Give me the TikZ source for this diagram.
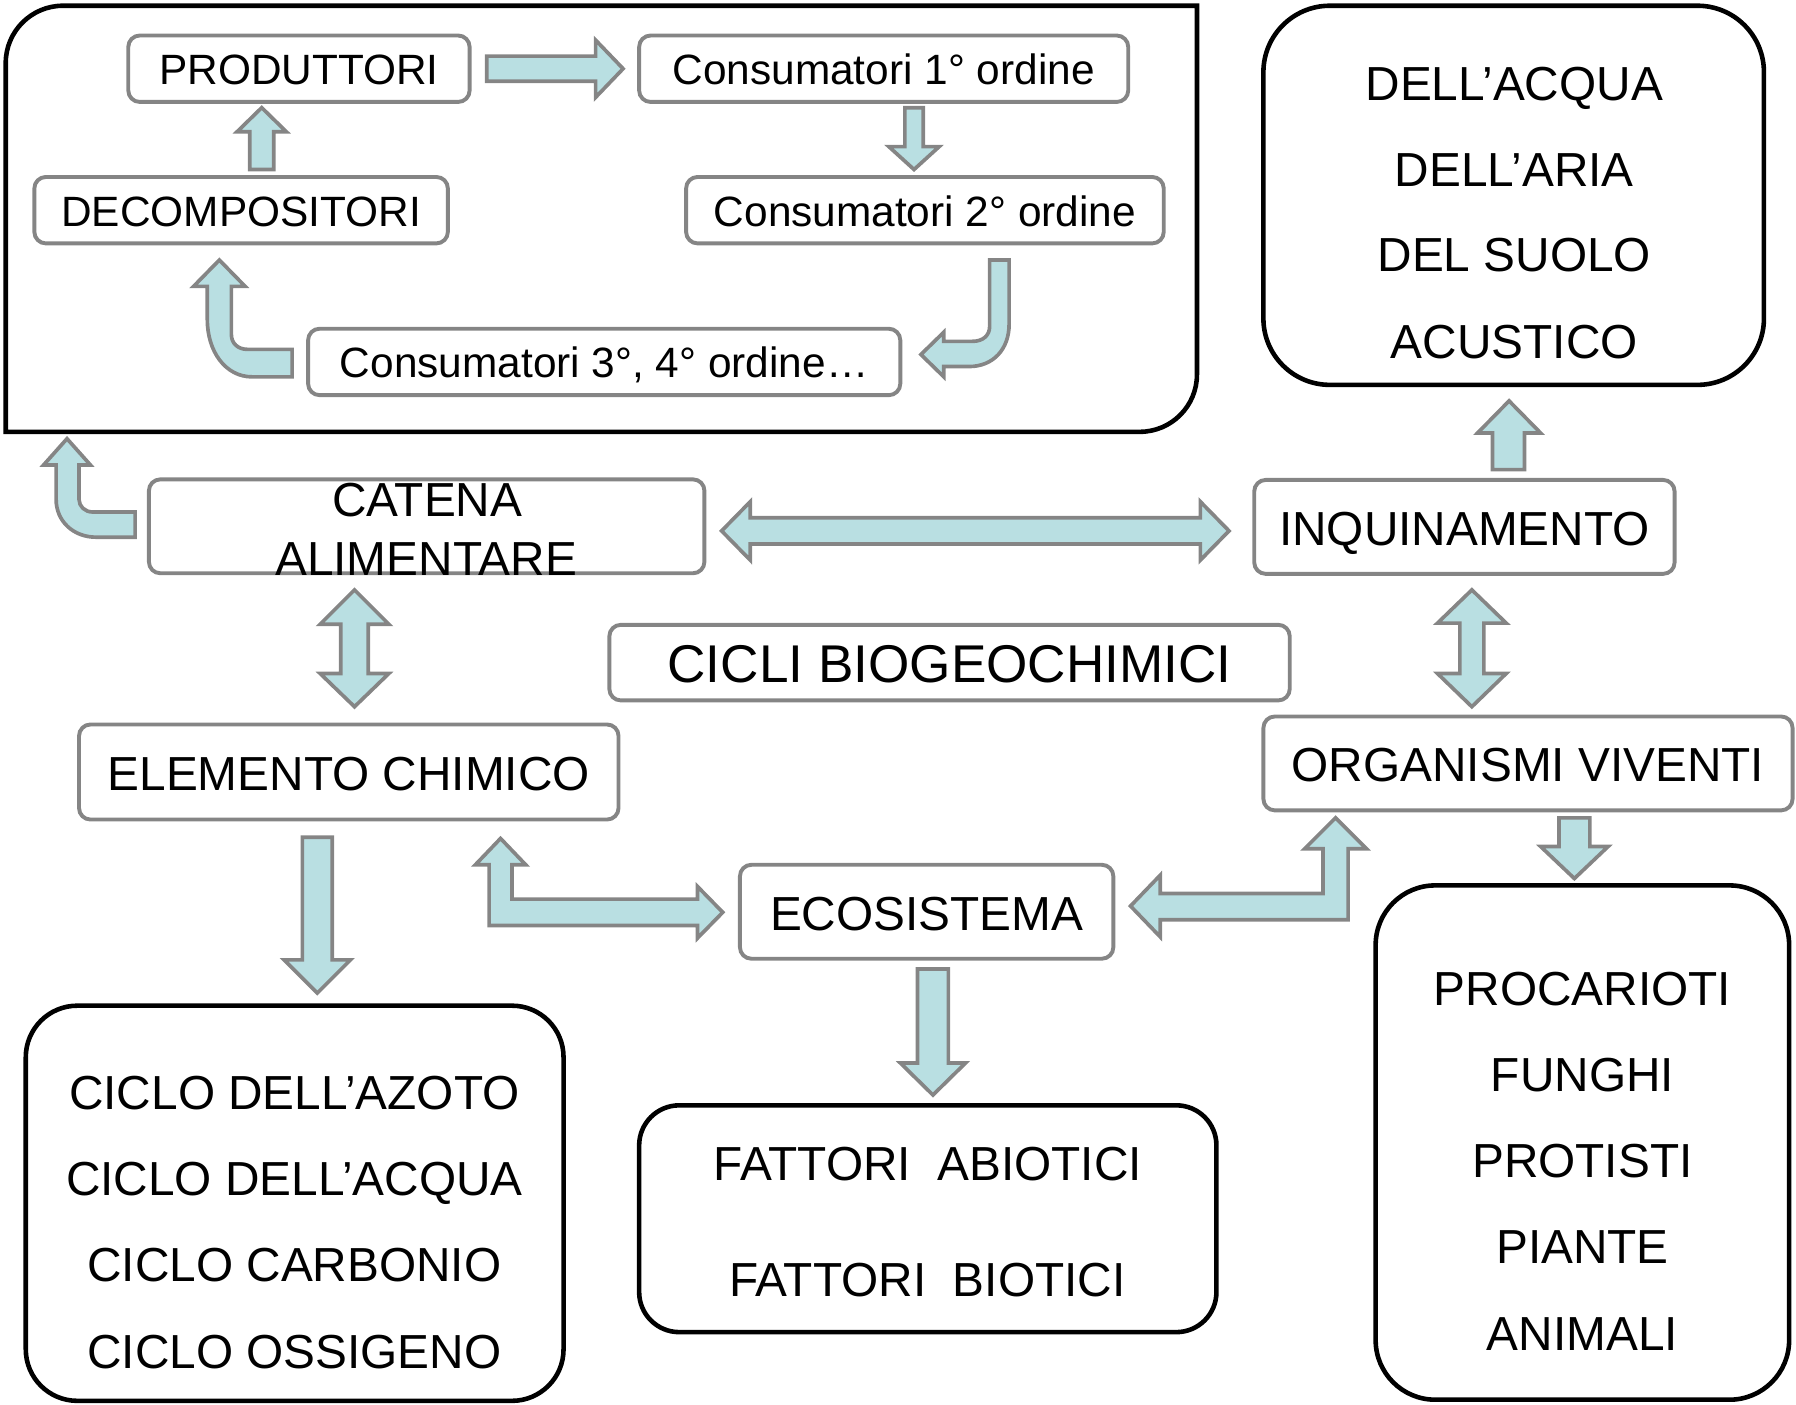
\documentclass[tikz,border=0pt]{standalone}
\usepackage{fontspec}
\setmainfont{Liberation Sans}
\definecolor{arrowblue}{HTML}{B9DFE2}
\definecolor{boxgray}{HTML}{858585}
\newcommand\fmain{\fontsize{41.7}{50}\selectfont}
\newcommand\fsmall{\fontsize{37}{44}\selectfont}
\newcommand\fbig{\fontsize{46.4}{56}\selectfont}
\begin{document}
\begin{tikzpicture}[x=1pt,y=-1pt,
  gbox/.style={draw=boxgray, line width=3.4pt, rounded corners=10pt, fill=white, inner sep=0pt, font=\fmain, text height=32pt, text depth=0pt},
  sbox/.style={gbox, font=\fsmall, text height=28pt},
  bigbox/.style={gbox, font=\fbig, text height=35pt},
  bbox/.style={draw=black, line width=4pt, inner sep=0pt},
  txt/.style={anchor=base, inner sep=0pt, font=\fmain},
  arr/.style={draw=boxgray, fill=arrowblue, line width=3.2pt, line join=miter}]
\useasboundingbox (0,0) rectangle (1568,1226);

% outer box of the food chain
\draw[line width=4pt] (5,377) -- (5,55) .. controls (5,27.4) and (27.4,5) .. (55,5)
  -- (1045,5) -- (1045,327) .. controls (1045,354.6) and (1022.6,377) .. (995,377) -- cycle;

% grey boxes
\node[sbox, minimum width=298pt, minimum height=58pt] (prod) at (261,60) {PRODUTTORI};
\node[sbox, minimum width=427pt, minimum height=58pt] (cons1) at (771.5,60) {Consumatori 1° ordine};
\node[sbox, minimum width=361pt, minimum height=58pt] (decomp) at (210.5,183.5) {DECOMPOSITORI};
\node[sbox, minimum width=417pt, minimum height=58pt] (cons2) at (807.5,183.5) {Consumatori 2° ordine};
\node[sbox, minimum width=517pt, minimum height=58pt] (cons3) at (527.5,316) {Consumatori 3°, 4° ordine…};
\node[gbox, minimum width=485pt, minimum height=82pt] (catena) at (372.5,459.5) {};
\node[txt] (catena1) at (373,451) {CATENA};
\node[txt] (catena2) at (372,502) {ALIMENTARE};
\node[gbox, minimum width=367pt, minimum height=82pt] (inq) at (1278.5,460) {INQUINAMENTO};
\node[bigbox, minimum width=594pt, minimum height=66pt] (cicli) at (829,578.5) {CICLI BIOGEOCHIMICI};
\node[gbox, minimum width=471pt, minimum height=83pt] (elem) at (304.5,674) {ELEMENTO CHIMICO};
\node[gbox, minimum width=462pt, minimum height=82pt] (org) at (1334,666.5) {ORGANISMI VIVENTI};
\node[gbox, minimum width=326pt, minimum height=82pt] (eco) at (809,796) {ECOSISTEMA};

% black boxes
\node[bbox, rounded corners=58pt, minimum width=437pt, minimum height=331pt] (inqbox) at (1321.5,170.5) {};
\node[txt] (i1) at (1322,88) {DELL’ACQUA};
\node[txt] (i2) at (1322,163) {DELL’ARIA};
\node[txt] (i3) at (1322,237) {DEL SUOLO};
\node[txt] (i4) at (1322,313) {ACUSTICO};

\node[bbox, rounded corners=45pt, minimum width=469.5pt, minimum height=345pt] (ciclibox) at (257.25,1050.5) {};
\node[txt] (c1) at (257,969) {CICLO DELL’AZOTO};
\node[txt] (c2) at (257,1044) {CICLO DELL’ACQUA};
\node[txt] (c3) at (257,1119) {CICLO CARBONIO};
\node[txt] (c4) at (257,1195) {CICLO OSSIGENO};

\node[bbox, rounded corners=35pt, minimum width=504pt, minimum height=198pt] (fatbox) at (810,1064) {};
\node[txt] (f1) at (810,1031) {FATTORI\ \ ABIOTICI};
\node[txt] (f2) at (809.5,1132) {FATTORI\ \ BIOTICI};

\node[bbox, rounded corners=52pt, minimum width=361pt, minimum height=449pt] (orgbox) at (1381.5,997.5) {};
\node[txt] (o1) at (1381.5,878) {PROCARIOTI};
\node[txt] (o2) at (1381.5,953) {FUNGHI};
\node[txt] (o3) at (1381.5,1028) {PROTISTI};
\node[txt] (o4) at (1381.5,1103) {PIANTE};
\node[txt] (o5) at (1381.5,1179) {ANIMALI};

% block arrows
% produttori -> consumatori 1
\filldraw[arr] (425,49) -- (520,49) -- (520,35) -- (544,60) -- (520,85) -- (520,71) -- (425,71) -- cycle;
% decompositori -> produttori
\filldraw[arr] (218,148) -- (218,115) -- (207,115) -- (228.5,94) -- (250,115) -- (239,115) -- (239,148) -- cycle;
% consumatori 1 -> consumatori 2
\filldraw[arr] (790,94) -- (806,94) -- (806,128) -- (820,128) -- (798,148) -- (776,128) -- (790,128) -- cycle;
% consumatori 2 -> consumatori 3
\filldraw[arr] (864,227) -- (881,227) -- (881,283) .. controls (881,305) and (867,320) .. (846,320)
  -- (824,320) -- (824,329) -- (804,309.5) -- (824,290) -- (824,298) -- (849,298)
  .. controls (858,298) and (864,293) .. (864,285) -- cycle;
% consumatori 3 -> decompositori
\filldraw[arr] (255,305) -- (255,329) -- (220,329) .. controls (197,329) and (181,307) .. (181,279)
  -- (181,250) -- (169,250) -- (191.5,227) -- (214,250) -- (202,250) -- (202,292)
  .. controls (202,300) and (208,305) .. (216,305) -- cycle;
% catena -> food chain box
\filldraw[arr] (118,447) -- (118,469) -- (84,469) .. controls (64,469) and (49,455) .. (49,436)
  -- (49,406) -- (38,406) -- (58.5,383) -- (79,406) -- (69,406) -- (69,436)
  .. controls (69,442) and (74,447) .. (81,447) -- cycle;
% catena <-> inquinamento
\filldraw[arr] (630,463.5) -- (655,438) -- (655,452) -- (1048,452) -- (1048,438) -- (1073,463.5)
  -- (1048,489) -- (1048,475) -- (655,475) -- (655,489) -- cycle;
% inquinamento -> box
\filldraw[arr] (1303,410) -- (1303,378) -- (1290,378) -- (1317.5,350) -- (1345,378) -- (1331,378) -- (1331,410) -- cycle;
% catena <-> elemento
\filldraw[arr] (309.5,515) -- (339.5,545) -- (321.5,545) -- (321.5,588) -- (339.5,588) -- (309.5,617)
  -- (279.5,588) -- (297.5,588) -- (297.5,545) -- (279.5,545) -- cycle;
% inquinamento <-> organismi
\filldraw[arr] (1285,515) -- (1315,544) -- (1295.5,544) -- (1295.5,588) -- (1315,588) -- (1285,617)
  -- (1255,588) -- (1274.5,588) -- (1274.5,544) -- (1255,544) -- cycle;
% elemento -> cicli box
\filldraw[arr] (264,731) -- (290,731) -- (290,838) -- (306,838) -- (277,867) -- (248,838) -- (264,838) -- cycle;
% elemento <-> ecosistema
\filldraw[arr] (437,732) -- (459,755) -- (447,755) -- (447,785) -- (609,785) -- (609,774) -- (631,796.5)
  -- (609,819) -- (609,808) -- (427,808) -- (427,755) -- (415,755) -- cycle;
% organismi <-> ecosistema
\filldraw[arr] (987,791) -- (1013,764) -- (1013,780) -- (1155,780) -- (1155,741) -- (1139,741) -- (1166,714)
  -- (1193,741) -- (1177,741) -- (1177,803) -- (1013,803) -- (1013,818) -- cycle;
% organismi -> box
\filldraw[arr] (1361,714) -- (1388,714) -- (1388,739) -- (1404,739) -- (1374.5,767) -- (1345,739) -- (1361,739) -- cycle;
% ecosistema -> fattori
\filldraw[arr] (801,846) -- (828,846) -- (828,928) -- (843,928) -- (814.5,956) -- (786,928) -- (801,928) -- cycle;
\end{tikzpicture}
\end{document}
